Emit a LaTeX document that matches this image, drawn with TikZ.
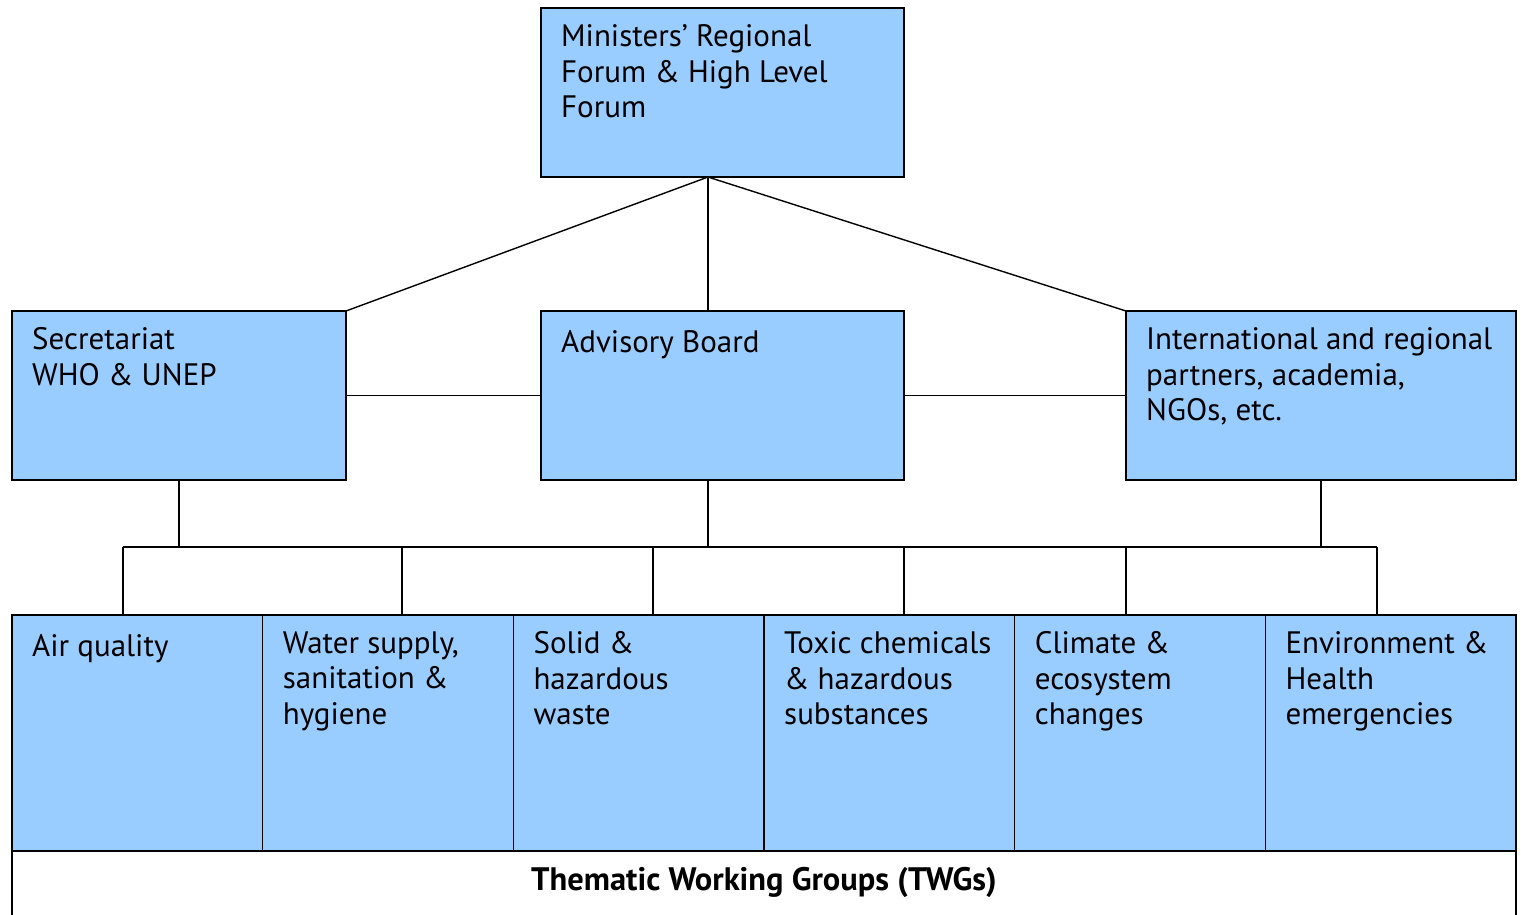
\documentclass[tikz,border=0pt]{standalone}
\usepackage{fontspec}
\setmainfont{PT Sans}
\usepackage{xcolor}
\usetikzlibrary{positioning,calc}
\definecolor{twgblue}{HTML}{99CCFF}

\begin{document}
\begin{tikzpicture}[
    x=1pt, y=-1pt,
    box/.style={rectangle, draw, fill=twgblue, line width=1.6pt, inner sep=0pt, outer sep=0pt, anchor=north west},
    boxtext/.style={anchor=north west, align=left, inner sep=0pt, xshift=20pt, yshift=-16.5pt,
                    execute at begin node=\rule{0pt}{25pt}, font=\fontsize{31}{35.5}\selectfont},
    captext/.style={anchor=north, inner sep=0pt, text height=39pt, font=\fontsize{32.5}{34}\selectfont\bfseries},
    link/.style={line width=1.4pt}
]
\useasboundingbox (0,0) rectangle (1521,914);

% Forum on top
\node[box, minimum width=363pt, minimum height=169pt,
      label={[boxtext]north west:{Ministers’ Regional\\Forum \& High Level\\Forum}}] (forum) at (541,8) {};

% Middle row
\node[box, minimum width=363pt, minimum height=169pt, below=134pt of forum,
      label={[boxtext]north west:{Advisory Board}}] (adv) {};
\node[box, minimum width=334pt, minimum height=169pt, left=195pt of adv,
      label={[boxtext]north west:{Secretariat\\WHO \& UNEP}}] (sec) {};
\node[box, minimum width=390pt, minimum height=169pt, right=222pt of adv,
      label={[boxtext]north west:{International and regional\\partners, academia,\\NGOs, etc.}}] (intl) {};

% Thematic working groups
\foreach \txt [count=\i, evaluate=\i as \xpos using 12+(\i-1)*250.667] in {
    {Air quality},
    {Water supply,\\sanitation \&\\hygiene},
    {Solid \&\\hazardous\\waste},
    {Toxic chemicals\\\& hazardous\\substances},
    {Climate \&\\ecosystem\\changes},
    {Environment \&\\Health\\emergencies}}
  \node[box, minimum width=250.667pt, minimum height=236pt,
        label={[boxtext]north west:{\txt}}] (t\i) at (\xpos,615) {};

\node[box, fill=white, minimum width=1504pt, minimum height=80pt,
      label={[captext]north:{Thematic Working Groups (TWGs)}}] (twgs) at (12,851) {};

% Connectors
\coordinate (hub) at ($(forum.south west)+(167,0)$);
\draw[link] (hub) -- (sec.north east);
\draw[link] (hub) -- (hub |- adv.north);
\draw[link] (hub) -- (intl.north west);
\draw[link] (sec.east) -- (adv.west);
\draw[link] (adv.east) -- (intl.west);

\foreach \x [count=\i] in {123,402,653,904,1126,1377}
  \coordinate (d\i) at (\x,547);
\draw[link] (sec.south) -- (sec.south |- d1);
\draw[link] (hub |- adv.south) -- (hub |- d1);
\draw[link] (intl.south) -- (intl.south |- d1);
\draw[link] (d1) -- (d6);
\foreach \i in {1,...,6}
  \draw[link] (d\i) -- (d\i |- t\i.north);

\end{tikzpicture}
\end{document}
